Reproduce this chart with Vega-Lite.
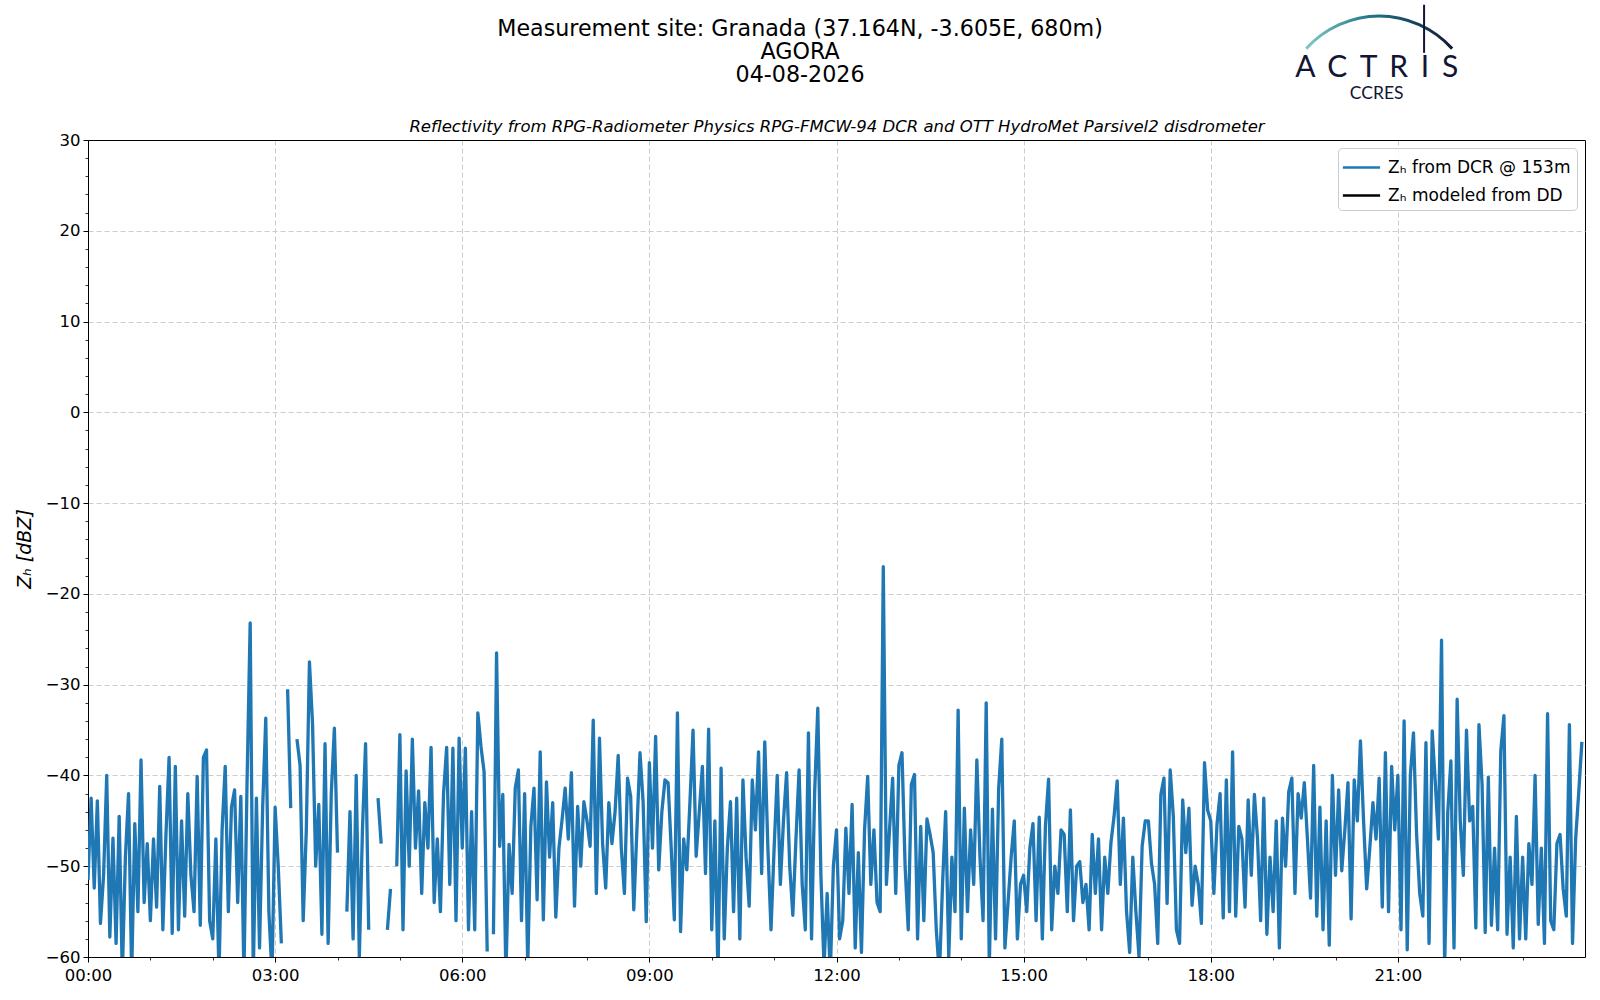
{
  "$schema": "https://vega.github.io/schema/vega-lite/v6.json",
  "width": 1497,
  "height": 817,
  "autosize": {"type": "none"},
  "padding": {"left": 88, "top": 140, "right": 15, "bottom": 43},
  "background": "white",
  "config": {
    "font": "DejaVu Sans",
    "view": {"stroke": "black", "strokeWidth": 1},
    "axis": {"labelFont": "DejaVu Sans", "labelFontSize": 16.5, "labelColor": "black", "tickColor": "black", "domainColor": "black", "titleFont": "DejaVu Sans", "titleColor": "black", "titleFontWeight": "normal", "gridColor": "#cccccc", "gridDash": [5, 3], "gridWidth": 1}
  },
  "title": {
    "text": ["Measurement site: Granada (37.164N, -3.605E, 680m)", "AGORA", "04-08-2026"],
    "anchor": "middle", "frame": "bounds", "font": "DejaVu Sans", "fontSize": 22.2, "fontWeight": "normal", "color": "black", "lineHeight": 23, "offset": -82.5
  },
  "datasets": {
    "zh": [
{"t":0,"z":-51.5},{"t":0.05,"z":-42.5},{"t":0.1,"z":-52.4},{"t":0.15,"z":-42.8},{"t":0.2,"z":-56.3},{"t":0.25,"z":-51},{"t":0.3,"z":-40},{"t":0.35,"z":-57.8},{"t":0.4,"z":-46.9},{"t":0.45,"z":-58.5},{"t":0.5,"z":-44.5},{"t":0.55,"z":-62},{"t":0.6,"z":-48.9},{"t":0.65,"z":-42},{"t":0.7,"z":-62},{"t":0.75,"z":-45.3},{"t":0.8,"z":-55},{"t":0.85,"z":-38.3},{"t":0.9,"z":-54},{"t":0.95,"z":-47.5},
{"t":1,"z":-56},{"t":1.05,"z":-47},{"t":1.1,"z":-54.5},{"t":1.15,"z":-41.2},{"t":1.2,"z":-57},{"t":1.25,"z":-46.5},{"t":1.3,"z":-38},{"t":1.35,"z":-57.4},{"t":1.4,"z":-39},{"t":1.45,"z":-57},{"t":1.5,"z":-45},{"t":1.55,"z":-55.5},{"t":1.6,"z":-42},{"t":1.65,"z":-51},{"t":1.7,"z":-55},{"t":1.75,"z":-40.1},{"t":1.8,"z":-56.5},{"t":1.85,"z":-38},{"t":1.9,"z":-37.2},{"t":1.95,"z":-56},
{"t":2,"z":-58},{"t":2.05,"z":-47},{"t":2.1,"z":-62},{"t":2.15,"z":-46},{"t":2.2,"z":-39},{"t":2.25,"z":-55},{"t":2.3,"z":-43.5},{"t":2.35,"z":-41.6},{"t":2.4,"z":-54},{"t":2.45,"z":-42.3},{"t":2.5,"z":-62},{"t":2.55,"z":-40.7},{"t":2.6,"z":-23.2},{"t":2.65,"z":-62},{"t":2.7,"z":-42.5},{"t":2.75,"z":-59},{"t":2.8,"z":-43.6},{"t":2.85,"z":-33.7},{"t":2.9,"z":-55},{"t":2.95,"z":-62},
{"t":3,"z":-43.5},{"t":3.05,"z":-50},{"t":3.1,"z":-58.5},{"t":3.15,"z":null},{"t":3.2,"z":-30.5},{"t":3.25,"z":-43.6},{"t":3.3,"z":null},{"t":3.35,"z":-36},{"t":3.4,"z":-38.9},{"t":3.45,"z":-56},{"t":3.5,"z":-46},{"t":3.55,"z":-27.5},{"t":3.6,"z":-34.3},{"t":3.65,"z":-50},{"t":3.7,"z":-43.2},{"t":3.75,"z":-57.5},{"t":3.8,"z":-36.5},{"t":3.85,"z":-58.5},{"t":3.9,"z":-42},{"t":3.95,"z":-34.8},
{"t":4,"z":-48.5},{"t":4.05,"z":null},{"t":4.1,"z":null},{"t":4.15,"z":-55},{"t":4.2,"z":-44},{"t":4.25,"z":-58},{"t":4.3,"z":-40},{"t":4.35,"z":-60},{"t":4.4,"z":-46},{"t":4.45,"z":-36.5},{"t":4.5,"z":-57},{"t":4.55,"z":null},{"t":4.6,"z":null},{"t":4.65,"z":-42.5},{"t":4.7,"z":-47.5},{"t":4.75,"z":null},{"t":4.8,"z":-57},{"t":4.85,"z":-52.5},{"t":4.9,"z":null},{"t":4.95,"z":-50},
{"t":5,"z":-35.5},{"t":5.05,"z":-57},{"t":5.1,"z":-39.5},{"t":5.15,"z":-50},{"t":5.2,"z":-36},{"t":5.25,"z":-48},{"t":5.3,"z":-41.7},{"t":5.35,"z":-53},{"t":5.4,"z":-43},{"t":5.45,"z":-48},{"t":5.5,"z":-36.9},{"t":5.55,"z":-54},{"t":5.6,"z":-47},{"t":5.65,"z":-55},{"t":5.7,"z":-42},{"t":5.75,"z":-36.9},{"t":5.8,"z":-52},{"t":5.85,"z":-37},{"t":5.9,"z":-56},{"t":5.95,"z":-35.9},
{"t":6,"z":-48},{"t":6.05,"z":-37},{"t":6.1,"z":-57},{"t":6.15,"z":-44},{"t":6.2,"z":-57},{"t":6.25,"z":-33.1},{"t":6.3,"z":-36.8},{"t":6.35,"z":-39.6},{"t":6.4,"z":-59.4},{"t":6.45,"z":null},{"t":6.5,"z":-57.5},{"t":6.55,"z":-26.5},{"t":6.6,"z":-47.8},{"t":6.65,"z":-42.1},{"t":6.7,"z":-62},{"t":6.75,"z":-47.6},{"t":6.8,"z":-53},{"t":6.85,"z":-41.4},{"t":6.9,"z":-39.4},{"t":6.95,"z":-56},
{"t":7,"z":-42},{"t":7.05,"z":-61},{"t":7.1,"z":-45.6},{"t":7.15,"z":-41.4},{"t":7.2,"z":-53.7},{"t":7.25,"z":-37.4},{"t":7.3,"z":-55.9},{"t":7.35,"z":-40.7},{"t":7.4,"z":-49},{"t":7.45,"z":-43},{"t":7.5,"z":-55.6},{"t":7.55,"z":-48},{"t":7.6,"z":-44.9},{"t":7.65,"z":-41.4},{"t":7.7,"z":-47},{"t":7.75,"z":-39.7},{"t":7.8,"z":-54.4},{"t":7.85,"z":-43.4},{"t":7.9,"z":-50},{"t":7.95,"z":-42.9},
{"t":8,"z":-45},{"t":8.05,"z":-47.8},{"t":8.1,"z":-33.9},{"t":8.15,"z":-53},{"t":8.2,"z":-35.9},{"t":8.25,"z":-47.5},{"t":8.3,"z":-52.4},{"t":8.35,"z":-43},{"t":8.4,"z":-47.5},{"t":8.45,"z":-44},{"t":8.5,"z":-37.8},{"t":8.55,"z":-48},{"t":8.6,"z":-53},{"t":8.65,"z":-40.3},{"t":8.7,"z":-42.3},{"t":8.75,"z":-54.8},{"t":8.8,"z":-46},{"t":8.85,"z":-37.5},{"t":8.9,"z":-43},{"t":8.95,"z":-56.1},
{"t":9,"z":-38.6},{"t":9.05,"z":-48},{"t":9.1,"z":-35.7},{"t":9.15,"z":-50.4},{"t":9.2,"z":-44},{"t":9.25,"z":-40.5},{"t":9.3,"z":-40.8},{"t":9.35,"z":-48},{"t":9.4,"z":-55.9},{"t":9.45,"z":-33.1},{"t":9.5,"z":-57.2},{"t":9.55,"z":-47},{"t":9.6,"z":-50.4},{"t":9.65,"z":-43},{"t":9.7,"z":-35},{"t":9.75,"z":-48.9},{"t":9.8,"z":-44},{"t":9.85,"z":-39},{"t":9.9,"z":-50.8},{"t":9.95,"z":-34.9},
{"t":10,"z":-57},{"t":10.05,"z":-45},{"t":10.1,"z":-62},{"t":10.15,"z":-39.2},{"t":10.2,"z":-58},{"t":10.25,"z":-48},{"t":10.3,"z":-42.9},{"t":10.35,"z":-55},{"t":10.4,"z":-42.5},{"t":10.45,"z":-58},{"t":10.5,"z":-40.5},{"t":10.55,"z":-49},{"t":10.6,"z":-54.4},{"t":10.65,"z":-40.5},{"t":10.7,"z":-46},{"t":10.75,"z":-37.4},{"t":10.8,"z":-50.8},{"t":10.85,"z":-36.3},{"t":10.9,"z":-48},{"t":10.95,"z":-57},
{"t":11,"z":-48},{"t":11.05,"z":-40},{"t":11.1,"z":-52},{"t":11.15,"z":-45},{"t":11.2,"z":-39.7},{"t":11.25,"z":-50},{"t":11.3,"z":-55.4},{"t":11.35,"z":-47},{"t":11.4,"z":-39.4},{"t":11.45,"z":-52},{"t":11.5,"z":-57},{"t":11.55,"z":-35.3},{"t":11.6,"z":-58},{"t":11.65,"z":-41.8},{"t":11.7,"z":-32.6},{"t":11.75,"z":-51},{"t":11.8,"z":-61},{"t":11.85,"z":-53},{"t":11.9,"z":-62},{"t":11.95,"z":-50},
{"t":12,"z":-46},{"t":12.05,"z":-58},{"t":12.1,"z":-56},{"t":12.15,"z":-45.8},{"t":12.2,"z":-53},{"t":12.25,"z":-43.2},{"t":12.3,"z":-59},{"t":12.35,"z":-48.5},{"t":12.4,"z":-59.5},{"t":12.45,"z":-46},{"t":12.5,"z":-40.1},{"t":12.55,"z":-52},{"t":12.6,"z":-46},{"t":12.65,"z":-54},{"t":12.7,"z":-55},{"t":12.75,"z":-17},{"t":12.8,"z":-52},{"t":12.85,"z":-46},{"t":12.9,"z":-40.3},{"t":12.95,"z":-53},
{"t":13,"z":-38.9},{"t":13.05,"z":-37.5},{"t":13.1,"z":-50},{"t":13.15,"z":-57},{"t":13.2,"z":-41},{"t":13.25,"z":-39.9},{"t":13.3,"z":-58},{"t":13.35,"z":-45.6},{"t":13.4,"z":-56},{"t":13.45,"z":-44.8},{"t":13.5,"z":-46.5},{"t":13.55,"z":-48.5},{"t":13.6,"z":-57},{"t":13.65,"z":-62},{"t":13.7,"z":-52},{"t":13.75,"z":-44},{"t":13.8,"z":-60},{"t":13.85,"z":-49},{"t":13.9,"z":-55},{"t":13.95,"z":-32.8},
{"t":14,"z":-58},{"t":14.05,"z":-43.6},{"t":14.1,"z":-55},{"t":14.15,"z":-46},{"t":14.2,"z":-52},{"t":14.25,"z":-38.3},{"t":14.3,"z":-49},{"t":14.35,"z":-56},{"t":14.4,"z":-32},{"t":14.45,"z":-61},{"t":14.5,"z":-43.7},{"t":14.55,"z":-58},{"t":14.6,"z":-41.4},{"t":14.65,"z":-36},{"t":14.7,"z":-59},{"t":14.75,"z":-54},{"t":14.8,"z":-49},{"t":14.85,"z":-45},{"t":14.9,"z":-58},{"t":14.95,"z":-52},
{"t":15,"z":-51},{"t":15.05,"z":-55},{"t":15.1,"z":-48},{"t":15.15,"z":-45.3},{"t":15.2,"z":-56},{"t":15.25,"z":-44.6},{"t":15.3,"z":-58},{"t":15.35,"z":-45.5},{"t":15.4,"z":-40.4},{"t":15.45,"z":-57},{"t":15.5,"z":-50},{"t":15.55,"z":-53},{"t":15.6,"z":-46},{"t":15.65,"z":-46.5},{"t":15.7,"z":-55},{"t":15.75,"z":-43.8},{"t":15.8,"z":-56},{"t":15.85,"z":-50},{"t":15.9,"z":-49.5},{"t":15.95,"z":-54},
{"t":16,"z":-52},{"t":16.05,"z":-57},{"t":16.1,"z":-46.5},{"t":16.15,"z":-53},{"t":16.2,"z":-47},{"t":16.25,"z":-57},{"t":16.3,"z":-49},{"t":16.35,"z":-53},{"t":16.4,"z":-47.4},{"t":16.45,"z":-44.5},{"t":16.5,"z":-40.6},{"t":16.55,"z":-52},{"t":16.6,"z":-44.7},{"t":16.65,"z":-55},{"t":16.7,"z":-59.5},{"t":16.75,"z":-49},{"t":16.8,"z":-55},{"t":16.85,"z":-60},{"t":16.9,"z":-47.8},{"t":16.95,"z":-45},
{"t":17,"z":-45},{"t":17.05,"z":-49.7},{"t":17.1,"z":-52},{"t":17.15,"z":-58.5},{"t":17.2,"z":-42.1},{"t":17.25,"z":-40.3},{"t":17.3,"z":-54.1},{"t":17.35,"z":-39.4},{"t":17.4,"z":-44.5},{"t":17.45,"z":-57},{"t":17.5,"z":-58.5},{"t":17.55,"z":-42.7},{"t":17.6,"z":-48.5},{"t":17.65,"z":-43.6},{"t":17.7,"z":-54.3},{"t":17.75,"z":-50},{"t":17.8,"z":-52},{"t":17.85,"z":-56.3},{"t":17.9,"z":-38.6},{"t":17.95,"z":-43.8},
{"t":18,"z":-45},{"t":18.05,"z":-53},{"t":18.1,"z":-45.4},{"t":18.15,"z":-42},{"t":18.2,"z":-55.7},{"t":18.25,"z":-40.5},{"t":18.3,"z":-55},{"t":18.35,"z":-37.4},{"t":18.4,"z":-55.5},{"t":18.45,"z":-45.6},{"t":18.5,"z":-47},{"t":18.55,"z":-54.5},{"t":18.6,"z":-42.7},{"t":18.65,"z":-51},{"t":18.7,"z":-42.1},{"t":18.75,"z":-47},{"t":18.8,"z":-56},{"t":18.85,"z":-42.5},{"t":18.9,"z":-57.5},{"t":18.95,"z":-49},
{"t":19,"z":-55},{"t":19.05,"z":-45},{"t":19.1,"z":-59},{"t":19.15,"z":-44.7},{"t":19.2,"z":-50},{"t":19.25,"z":-41.8},{"t":19.3,"z":-40.3},{"t":19.35,"z":-53},{"t":19.4,"z":-42},{"t":19.45,"z":-44.7},{"t":19.5,"z":-40.8},{"t":19.55,"z":-47},{"t":19.6,"z":-53.5},{"t":19.65,"z":-38.9},{"t":19.7,"z":-55.5},{"t":19.75,"z":-43.5},{"t":19.8,"z":-57},{"t":19.85,"z":-45},{"t":19.9,"z":-58.7},{"t":19.95,"z":-40},
{"t":20,"z":-51},{"t":20.05,"z":-41.6},{"t":20.1,"z":-50.5},{"t":20.15,"z":-46},{"t":20.2,"z":-40.8},{"t":20.25,"z":-55.8},{"t":20.3,"z":-40.5},{"t":20.35,"z":-45},{"t":20.4,"z":-36.2},{"t":20.45,"z":-45},{"t":20.5,"z":-52.5},{"t":20.55,"z":-48},{"t":20.6,"z":-43},{"t":20.65,"z":-47},{"t":20.7,"z":-40.3},{"t":20.75,"z":-54.5},{"t":20.8,"z":-37.5},{"t":20.85,"z":-55},{"t":20.9,"z":-39},{"t":20.95,"z":-46},
{"t":21,"z":-40},{"t":21.05,"z":-57},{"t":21.1,"z":-34},{"t":21.15,"z":-59.2},{"t":21.2,"z":-40},{"t":21.25,"z":-35.3},{"t":21.3,"z":-46.5},{"t":21.35,"z":-53},{"t":21.4,"z":-55.5},{"t":21.45,"z":-36.4},{"t":21.5,"z":-58.5},{"t":21.55,"z":-35.1},{"t":21.6,"z":-40.8},{"t":21.65,"z":-47},{"t":21.7,"z":-25.1},{"t":21.75,"z":-61},{"t":21.8,"z":-44},{"t":21.85,"z":-38.4},{"t":21.9,"z":-59},{"t":21.95,"z":-31.6},
{"t":22,"z":-45},{"t":22.05,"z":-51},{"t":22.1,"z":-35},{"t":22.15,"z":-45},{"t":22.2,"z":-43.4},{"t":22.25,"z":-56.8},{"t":22.3,"z":-34.4},{"t":22.35,"z":-41},{"t":22.4,"z":-57.3},{"t":22.45,"z":-40.2},{"t":22.5,"z":-56.5},{"t":22.55,"z":-48},{"t":22.6,"z":-57},{"t":22.65,"z":-37.3},{"t":22.7,"z":-33.4},{"t":22.75,"z":-57.5},{"t":22.8,"z":-49},{"t":22.85,"z":-59},{"t":22.9,"z":-44.5},{"t":22.95,"z":-58},
{"t":23,"z":-49},{"t":23.05,"z":-58},{"t":23.1,"z":-47.5},{"t":23.15,"z":-52},{"t":23.2,"z":-40},{"t":23.25,"z":-56.4},{"t":23.3,"z":-48},{"t":23.35,"z":-58.5},{"t":23.4,"z":-33.2},{"t":23.45,"z":-56},{"t":23.5,"z":-57},{"t":23.55,"z":-47.5},{"t":23.6,"z":-46.5},{"t":23.65,"z":-52.5},{"t":23.7,"z":-55.5},{"t":23.75,"z":-34.4},{"t":23.8,"z":-58.5},{"t":23.85,"z":-47},{"t":23.9,"z":-41.8},{"t":23.95,"z":-36.3}
    ]
  },
  "resolve": {"axis": {"x": "independent", "y": "independent"}},
  "layer": [
    {
      "data": {"name": "zh"},
      "mark": {"type": "line", "strokeWidth": 3.3, "strokeJoin": "round", "clip": true, "invalid": "break-paths-show-domains"},
      "encoding": {
        "x": {"field": "t", "type": "quantitative", "scale": {"domain": [0, 24], "nice": false, "zero": false},
          "axis": {"title": null, "values": [0, 3, 6, 9, 12, 15, 18, 21], "labelExpr": "(datum.value < 10 ? '0' : '') + datum.value + ':00'", "labelFlush": false, "labelOverlap": false, "labelBound": false, "tickSize": 5, "tickWidth": 1, "labelPadding": 5, "grid": true, "domain": true}},
        "y": {"field": "z", "type": "quantitative", "scale": {"domain": [-60, 30], "nice": false, "zero": false},
          "axis": {"title": "Zₕ [dBZ]", "titleFontStyle": "italic", "titleFontSize": 19, "titlePadding": 11, "values": [-60, -50, -40, -30, -20, -10, 0, 10, 20, 30], "tickSize": 5, "tickWidth": 1, "labelPadding": 3, "grid": true, "domain": true, "labelOverlap": false}},
        "color": {"datum": "Zₕ from DCR @ 153m", "type": "nominal",
          "scale": {"domain": ["Zₕ from DCR @ 153m", "Zₕ modeled from DD"], "range": ["#1f77b4", "#000000"]},
          "legend": {"title": null, "orient": "top-right", "offset": 8, "strokeColor": "#cccccc", "fillColor": "rgba(255,255,255,0.85)", "cornerRadius": 4, "padding": 6, "labelFont": "DejaVu Sans", "labelFontSize": 17, "labelColor": "black", "labelLimit": 400, "symbolType": "M-1.55,0H1.55", "symbolStrokeWidth": 2.5, "symbolSize": 576, "symbolOffset": 4, "rowPadding": 6, "labelOffset": 13}}
      }
    },
    {
      "data": {"values": [{}]},
      "mark": {"type": "text", "text": "A\u00a0\u2006C\u00a0\u2006T\u00a0\u2006R\u00a0\u2006I\u00a0\u2006S", "font": "Lato", "fontSize": 30, "align": "center", "baseline": "alphabetic", "color": "#111634", "clip": false},
      "encoding": {
        "x": {"datum": 20.66, "type": "quantitative", "scale": {"domain": [0, 24], "nice": false, "zero": false},
          "axis": {"title": null, "orient": "bottom", "values": [1, 2, 4, 5, 7, 8, 10, 11, 13, 14, 16, 17, 19, 20, 22, 23], "labels": false, "grid": false, "domain": false, "tickSize": 3, "tickWidth": 0.8}},
        "y": {"datum": 36.9, "type": "quantitative", "scale": {"domain": [-60, 30], "nice": false, "zero": false},
          "axis": {"title": null, "orient": "left", "values": [-58, -56, -54, -52, -48, -46, -44, -42, -38, -36, -34, -32, -28, -26, -24, -22, -18, -16, -14, -12, -8, -6, -4, -2, 2, 4, 6, 8, 12, 14, 16, 18, 22, 24, 26, 28], "labels": false, "grid": false, "domain": false, "tickSize": 3, "tickWidth": 0.8}}
      }
    },
    {
      "data": {"values": [{}]},
      "mark": {"type": "text", "text": "CCRES", "font": "Lato", "fontSize": 17.5, "align": "center", "baseline": "alphabetic", "color": "#111634", "clip": false},
      "encoding": {
        "x": {"datum": 20.66, "type": "quantitative", "scale": {"domain": [0, 24], "nice": false, "zero": false},
          "axis": {"title": "Reflectivity from RPG-Radiometer Physics RPG-FMCW-94 DCR and OTT HydroMet Parsivel2 disdrometer", "orient": "top", "titleFontStyle": "italic", "titleFontSize": 16.5, "titlePadding": 6, "labels": false, "ticks": false, "grid": false, "domain": true, "domainColor": "black", "domainWidth": 1}},
        "y": {"datum": 34.5, "type": "quantitative", "scale": {"domain": [-60, 30], "nice": false, "zero": false}, "axis": null}
      }
    },
    {
      "data": {"values": [{}]},
      "mark": {"type": "arc", "innerRadius": 96.5, "outerRadius": 99.5, "theta": -0.84, "theta2": 0.84, "clip": false,
        "fill": {"gradient": "linear", "x1": 0, "y1": 0, "x2": 1, "y2": 0, "stops": [{"offset": 0, "color": "#7fcbc6"}, {"offset": 0.45, "color": "#217486"}, {"offset": 1, "color": "#121735"}]}},
      "encoding": {
        "x": {"datum": 20.7, "type": "quantitative", "scale": {"domain": [0, 24], "nice": false, "zero": false}, "axis": null},
        "y": {"datum": 32.86, "type": "quantitative", "scale": {"domain": [-60, 30], "nice": false, "zero": false}, "axis": null}
      }
    },
    {
      "data": {"values": [{}]},
      "mark": {"type": "rule", "color": "#111634", "strokeWidth": 2, "clip": false},
      "encoding": {
        "x": {"datum": 21.42, "type": "quantitative", "scale": {"domain": [0, 24], "nice": false, "zero": false}, "axis": null},
        "y": {"datum": 39.6, "type": "quantitative", "scale": {"domain": [-60, 30], "nice": false, "zero": false}, "axis": null},
        "y2": {"datum": 44.9}
      }
    }
  ]
}
